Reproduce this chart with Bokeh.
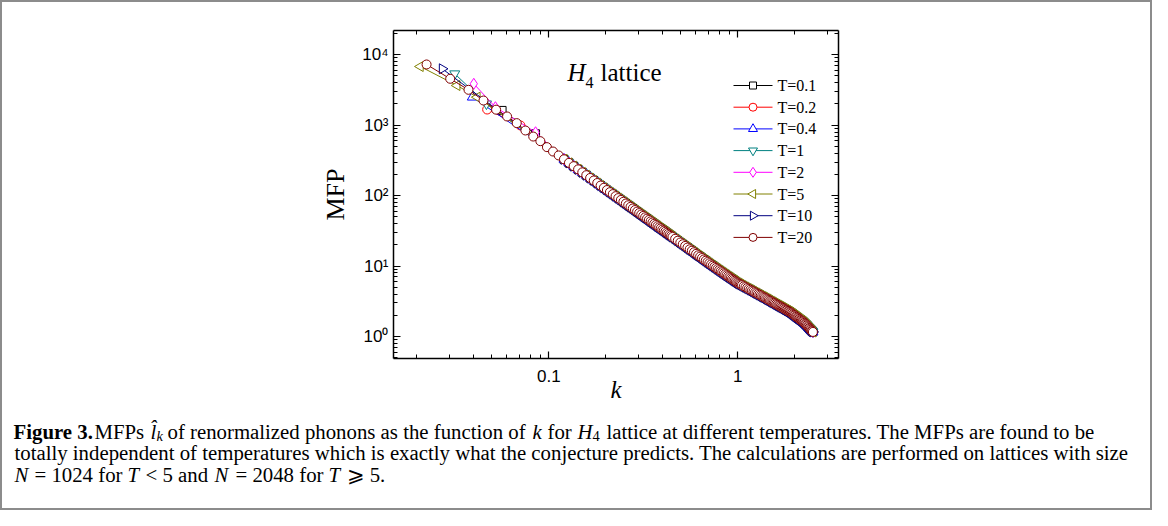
import numpy as np
from bokeh.plotting import figure
from bokeh.models import Range1d, FixedTicker, LogAxis, Label, ColumnDataSource
from bokeh.layouts import column
from bokeh.core.properties import value
from bokeh.embed import file_html
from bokeh.resources import INLINE

# ---------------- data ----------------
dk = 0.00752  # spacing of plotted k modes

# T=20: first low-k points (mode index n=3..15)
n_T20_head = list(range(3, 16))
mfp_T20_head = [7280, 4560, 3180, 2240, 1660, 1330, 1070, 841, 690, 593, 488, 423, 372]

# common band (all temperatures coincide here)
n_band = list(range(16, 61)) + list(range(62, 141, 2)) + list(range(143, 333, 3))
mfp_band = [
    328, 292, 262, 236, 214, 195, 178, 164, 151, 139, 129, 120, 112, 105, 98.2,
    92.2, 86.8, 81.8, 77.2, 73.0, 69.2, 65.7, 62.4, 59.3, 56.5, 53.9, 51.5, 49.2,
    47.1, 45.1, 43.2, 41.5, 39.8, 38.3, 36.8, 35.4, 34.2, 32.9, 31.8, 30.7, 29.6,
    28.6, 27.7, 26.8, 25.9,
    24.4, 22.9, 21.6, 20.4, 19.3, 18.3, 17.3, 16.5, 15.7, 14.9, 14.2, 13.6, 13.0,
    12.4, 11.9, 11.4, 10.96, 10.52, 10.12, 9.74, 9.39, 9.06, 8.75, 8.45, 8.17,
    7.90, 7.65, 7.40, 7.17, 6.96, 6.75, 6.55, 6.36, 6.18, 6.00, 5.83, 5.69, 5.57,
    5.45, 5.34,
    5.17, 5.02, 4.87, 4.73, 4.60, 4.47, 4.35, 4.23, 4.12, 4.01, 3.91, 3.82, 3.72,
    3.63, 3.55, 3.46, 3.38, 3.30, 3.22, 3.15, 3.08, 3.01, 2.95, 2.88, 2.82, 2.76,
    2.71, 2.65, 2.60, 2.55, 2.50, 2.45, 2.40, 2.36, 2.31, 2.27, 2.23, 2.18, 2.13,
    2.08, 2.03, 1.99, 1.94, 1.90, 1.86, 1.82, 1.78, 1.74, 1.71, 1.67, 1.64, 1.60,
    1.56, 1.52, 1.48, 1.44, 1.40, 1.36, 1.32, 1.29, 1.25, 1.22, 1.19, 1.16,
]
assert len(n_band) == len(mfp_band), (len(n_band), len(mfp_band))
k_band = [n * dk for n in n_band]

# low-k heads of the other temperatures
k_T01, mfp_T01 = [0.0566, 0.0851], [1620, 755]
k_T02, mfp_T02 = [0.0472, 0.0708], [1670, 990]
k_T04, mfp_T04 = [0.0394], [2500]
k_T1, mfp_T1 = [0.0318, 0.0468], [5370, 2010]
k_T2, mfp_T2 = [0.0401, 0.0522, 0.0851], [3870, 1800, 794]
k_T5, mfp_T5 = [0.0209, 0.0327, 0.0418], [6810, 3660, 2500]
k_T10, mfp_T10 = [0.0273], [6320]
k_T20 = [n * dk for n in n_T20_head]

labels = ["T=0.1", "T=0.2", "T=0.4", "T=1", "T=2", "T=5", "T=10", "T=20"]
heads_k = [k_T01, k_T02, k_T04, k_T1, k_T2, k_T5, k_T10, k_T20]
heads_mfp = [mfp_T01, mfp_T02, mfp_T04, mfp_T1, mfp_T2, mfp_T5, mfp_T10, mfp_T20_head]

colors = ["#000000", "#ff0000", "#0000ff", "#008080", "#ff00ff", "#808000", "#000080", "#800000"]
markers = ["square", "circle", "triangle", "inverted_triangle", "diamond", "triangle", "triangle", "circle"]
angles = [0, 0, 0, 0, 0, np.pi / 2, -np.pi / 2, 0]
sizes = [8, 9, 10, 10, 11, 10, 10, 9]

x_ticks = [0.1, 1]
x_minor = [0.02, 0.03, 0.04, 0.05, 0.06, 0.07, 0.08, 0.09,
           0.2, 0.3, 0.4, 0.5, 0.6, 0.7, 0.8, 0.9, 2, 3]
x_labels = {0.1: "0.1", 1: "1"}
y_ticks = [1, 10, 100, 1000, 10000]
y_minor = [0.5, 0.6, 0.7, 0.8, 0.9] + [m * d for d in (1, 10, 100, 1000) for m in range(2, 10)] + [20000]
y_labels = {1: "10\u2070", 10: "10\u00b9", 100: "10\u00b2", 1000: "10\u00b3", 10000: "10\u2074"}

W = 1148                   # inner width (2px grey border around)
H1, H2 = 408, 98           # chart height, caption height
BL, BR, BT, BB = 391, 312, 28, 52
XR = (0.01508, 3.41)
YR = (0.487, 22100)

# ---------------- plot ----------------
p = figure(width=W, height=H1, x_axis_type="log", y_axis_type="log",
           x_range=Range1d(*XR), y_range=Range1d(*YR),
           min_border_left=BL, min_border_right=BR, min_border_top=BT, min_border_bottom=BB,
           output_backend="svg", toolbar_location=None)
p.xgrid.visible = False
p.ygrid.visible = False
p.outline_line_color = None
p.background_fill_color = "white"
p.border_fill_color = "white"

xt = FixedTicker(ticks=x_ticks, minor_ticks=x_minor)
yt = FixedTicker(ticks=y_ticks, minor_ticks=y_minor)

def style_axis(ax, show_labels):
    ax.axis_line_width = 1.5
    ax.axis_line_color = "black"
    ax.major_tick_in = 7
    ax.major_tick_out = 0
    ax.minor_tick_in = 4
    ax.minor_tick_out = 0
    ax.major_tick_line_width = 1.2
    ax.minor_tick_line_width = 1
    ax.major_tick_line_color = "black"
    ax.minor_tick_line_color = "black"
    ax.major_label_text_font = "Liberation Sans"
    ax.axis_label_text_color = "black"
    if show_labels:
        ax.major_label_text_font_size = "17px"
        ax.major_label_text_color = "black"
    else:
        ax.major_label_text_font_size = "8px"
        ax.major_label_text_color = None
        ax.major_label_standoff = 0

p.xaxis.ticker = xt
p.xaxis.major_label_overrides = x_labels
p.xaxis.major_label_standoff = 11
p.xaxis.axis_label = "k"
p.xaxis.axis_label_text_font = "Liberation Serif"
p.xaxis.axis_label_text_font_style = "italic"
p.xaxis.axis_label_text_font_size = "25px"
p.xaxis.axis_label_standoff = -9
style_axis(p.xaxis[0], True)

p.yaxis.ticker = yt
p.yaxis.major_label_overrides = y_labels
p.yaxis.major_label_standoff = 5
p.yaxis.axis_label = "MFP"
p.yaxis.axis_label_text_font = "Liberation Serif"
p.yaxis.axis_label_text_font_style = "normal"
p.yaxis.axis_label_text_font_size = "26px"
p.yaxis.axis_label_standoff = 9
style_axis(p.yaxis[0], True)

top = LogAxis(ticker=xt)
style_axis(top, False)
p.add_layout(top, "above")
right = LogAxis(ticker=yt)
style_axis(right, False)
p.add_layout(right, "right")

for lab, hk, hm, c, mk, ang, sz in zip(labels, heads_k, heads_mfp, colors, markers, angles, sizes):
    xs = list(hk) + k_band
    ys = list(hm) + mfp_band
    src = ColumnDataSource(dict(x=xs, y=ys))
    p.line("x", "y", source=src, line_color=c, line_width=1)
    p.scatter("x", "y", source=src, marker=mk, angle=ang, size=sz,
              line_color=c, fill_color="white", line_width=1)

# pixel position in the picture -> data coordinates of the chart
FL, FR = BL + 2, W - BR + 2
FT, FB = BT + 2, H1 - BB + 2
lx0, lx1 = np.log10(XR[0]), np.log10(XR[1])
ly0, ly1 = np.log10(YR[0]), np.log10(YR[1])

def at(px, py):
    kx = 10 ** (lx0 + (px - FL) / (FR - FL) * (lx1 - lx0))
    ky = 10 ** (ly0 + (FB - py) / (FB - FT) * (ly1 - ly0))
    return kx, ky

def put(px, py, text, size, style="normal", baseline="alphabetic"):
    x, y = at(px, py)
    p.add_layout(Label(x=x, y=y, text=text, text_font="Liberation Serif", text_font_style=style,
                       text_font_size=size, text_color="black", text_baseline=baseline,
                       text_align="left"))

put(567, 72, "H", "25px", "italic")
put(585, 82, "4", "16px")
put(600, 72, "lattice", "25px")

# legend (drawn by hand so that the rotated triangles show correctly)
for i, (lab, c, mk, ang, sz) in enumerate(zip(labels, colors, markers, angles, sizes)):
    ry = 85 + i * 21.7
    xa, ya = at(733, ry)
    xb, _ = at(772, ry)
    xm, _ = at(752.5, ry)
    p.segment(x0=[xa], y0=[ya], x1=[xb], y1=[ya], line_color=c, line_width=1)
    p.scatter(x=[xm], y=[ya], marker=mk, angle=ang, size=sz - 1,
              line_color=c, fill_color="white", line_width=1)
    put(777, ry, lab, "16px", baseline="middle")

# ---------------- caption ----------------
cap = figure(width=W, height=H2, x_range=Range1d(2, 2 + W), y_range=Range1d(2 + H1 + H2, 2 + H1),
             min_border=0, min_border_left=0, min_border_right=0, min_border_top=0,
             min_border_bottom=0, toolbar_location=None, output_backend="svg",
             x_axis_location=None, y_axis_location=None)
cap.xgrid.visible = False
cap.ygrid.visible = False
cap.outline_line_color = None
for fig in (p, cap):
    try:
        fig.frame_align = False
    except Exception:
        pass

FS = "20.8px"
SUB = "14.5px"
L1, L2, L3 = 431, 452, 474
runs = [
    # (x, baseline, text, style, size)
    (13, L1, "Figure 3.", "bold", FS),
    (94, L1, "MFPs", "normal", FS),
    (150, L1, "l\u0302", "italic", FS),
    (156, L1 + 4, "k", "italic", SUB),
    (167, L1, "of renormalized phonons as the function of", "normal", FS),
    (532, L1, "k", "italic", FS),
    (547, L1, "for", "normal", FS),
    (577, L1, "H", "italic", FS),
    (592, L1 + 4, "4", "normal", SUB),
    (606, L1, "lattice at different temperatures. The MFPs are found to be", "normal", FS),
    (14, L2, "totally independent of temperatures which is exactly what the conjecture predicts. "
             "The calculations are performed on lattices with size", "normal", FS),
    (14, L3, "N", "italic", FS),
    (34, L3, "= 1024 for", "normal", FS),
    (127, L3, "T", "italic", FS),
    (145, L3, "< 5 and", "normal", FS),
    (214, L3, "N", "italic", FS),
    (235, L3, "= 2048 for", "normal", FS),
    (328, L3, "T", "italic", FS),
    (346, L3, "\u2a7e 5.", "normal", FS),
]
for x, y, t, st, fs in runs:
    cap.text(x=[x], y=[y], text=[t], text_font=value("Liberation Serif"),
             text_font_style=value(st), text_font_size=value(fs),
             text_baseline=value("alphabetic"), text_align=value("left"), text_color="black")

layout = column(p, column(cap), styles={"border": "2px solid #8c8c8c"})
open("out.html", "w").write(file_html(layout, INLINE))
